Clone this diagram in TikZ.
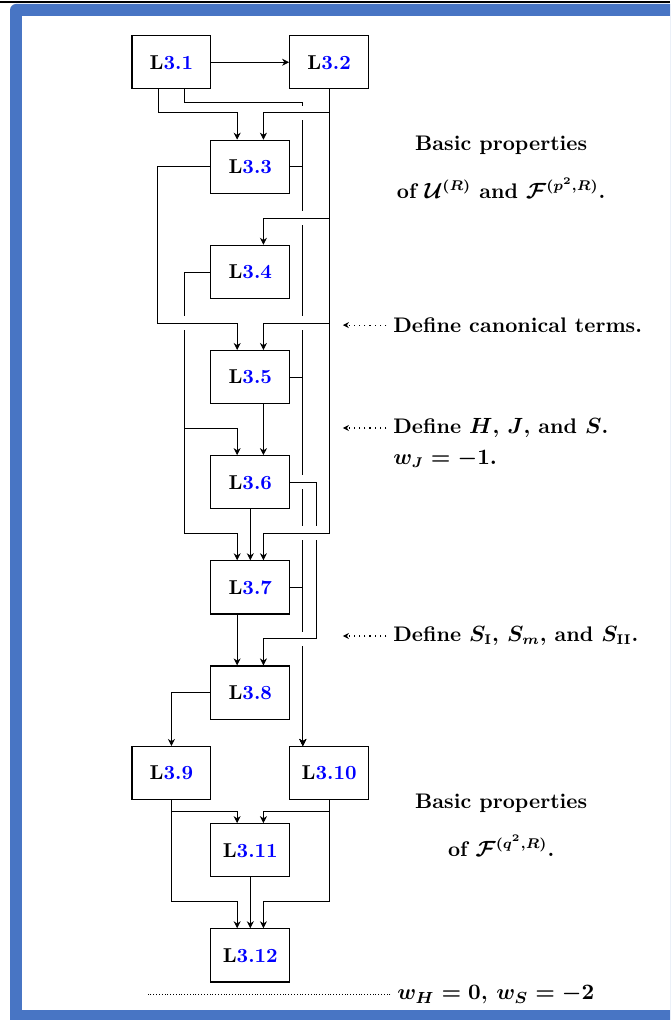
\documentclass[tikz,border=0pt]{standalone}
\usepackage{amsmath,amssymb}
\usepackage{tikz}
\usetikzlibrary{arrows.meta,calc,positioning}

\definecolor{frameblue}{RGB}{72,117,196}

% lemma label: black L, blue number
\newcommand{\lem}[1]{L\textcolor{blue}{#1}}
% gap in a vertical line where a horizontal one crosses it
\newcommand{\hop}[1]{%
  \fill[white] ($#1+(-1.2pt,-3.5pt)$) rectangle ($#1+(1.2pt,3.5pt)$);
  \draw ($#1+(-2pt,0)$) -- ($#1+(2pt,0)$);}

\begin{document}
\begin{tikzpicture}[>=Stealth, every node/.style={font=\bfseries\boldmath},
    lemma/.style={draw, line width=0.6pt, minimum width=1.38cm, minimum height=0.93cm, inner sep=0pt},
    link/.style={-{Stealth[length=3.5pt,width=3.5pt]}},
    note/.style={-{Stealth[length=3pt,width=3pt]}, dotted, line width=0.6pt},
    remark/.style={font=\fontsize{10.5}{12.6}\selectfont\bfseries\boldmath}]
    \useasboundingbox (0,0) rectangle (11.725,-17.85);

    % Frame
    \begin{scope}
      \clip (0,0) rectangle (11.725,-17.85);
      \fill[frameblue, rounded corners=3pt] (0.175,-0.07) rectangle (12.5,-18.5);
      \fill[white] (0.385,-0.28) rectangle (12.3,-17.67);
      \draw[line width=0.8pt] (0,-0.035) -- (11.725,-0.035);
    \end{scope}

    % Lemmas
    \node[lemma] (L31) at (3.0,-1.09) {\lem{3.1}};
    \node[lemma] (L32) at (5.76,-1.09) {\lem{3.2}};
    \node[lemma] (L33) at (4.38,-2.92) {\lem{3.3}};
    \node[lemma] (L34) at (4.38,-4.76) {\lem{3.4}};
    \node[lemma] (L35) at (4.38,-6.60) {\lem{3.5}};
    \node[lemma] (L36) at (4.38,-8.44) {\lem{3.6}};
    \node[lemma] (L37) at (4.38,-10.28) {\lem{3.7}};
    \node[lemma] (L38) at (4.38,-12.12) {\lem{3.8}};
    \node[lemma] (L39) at (3.0,-13.53) {\lem{3.9}};
    \node[lemma] (L310) at (5.76,-13.53) {\lem{3.10}};
    \node[lemma] (L311) at (4.38,-14.88) {\lem{3.11}};
    \node[lemma] (L312) at (4.38,-16.72) {\lem{3.12}};

    \coordinate (trunk) at ([xshift=-4.6mm]L310.north);

    % Long line down to L3.10
    \draw[link] ([xshift=2.3mm]L31.south) -- ++(0,-2.3mm) -| (trunk);
    \draw[link] (L33.east) -| (trunk);
    \draw[link] (L35.east) -| (trunk);
    \draw[link] (L37.east) -| (trunk);

    % Left side lines
    \draw[link] ([xshift=-2.3mm]L31.south) |- ([xshift=-2.3mm,yshift=4.7mm]L33.north) -- ([xshift=-2.3mm]L33.north);
    \draw[link] (L33.west) -- ++(-9.3mm,0) |- ([xshift=-2.3mm,yshift=4.7mm]L35.north) coordinate (b35) -- ([xshift=-2.3mm]L35.north);
    \draw[link] (L34.west) -- ++(-4.6mm,0) coordinate (r34) |- ([xshift=-2.3mm,yshift=4.7mm]L36.north) -- ([xshift=-2.3mm]L36.north);
    \draw[link] (L34.west) -- ++(-4.6mm,0) |- ([xshift=-2.3mm,yshift=4.7mm]L37.north) -- ([xshift=-2.3mm]L37.north);

    % Lines from L3.2
    \draw[link] (L31.east) -- (L32.west);
    \draw[link] (L32.south) |- ([xshift=2.3mm,yshift=4.7mm]L33.north) coordinate (b23) -- ([xshift=2.3mm]L33.north);
    \draw[link] (L32.south) |- ([xshift=2.3mm,yshift=4.7mm]L34.north) coordinate (b24) -- ([xshift=2.3mm]L34.north);
    \draw[link] (L32.south) |- ([xshift=2.3mm,yshift=4.7mm]L35.north) coordinate (b25) -- ([xshift=2.3mm]L35.north);
    \draw[link] (L32.south) |- ([xshift=2.3mm,yshift=4.7mm]L37.north) coordinate (b27) -- ([xshift=2.3mm]L37.north);

    % Middle column
    \draw[link] ([xshift=2.3mm]L35.south) -- ([xshift=2.3mm]L36.north);
    \draw[link] (L36.south) -- (L37.north);
    \draw[link] (L36.east) -- ++(4.6mm,0) coordinate (r36) |- ([xshift=2.3mm,yshift=4.7mm]L38.north) coordinate (b68) -- ([xshift=2.3mm]L38.north);
    \draw[link] ([xshift=-2.3mm]L37.south) -- ([xshift=-2.3mm]L38.north);
    \draw[link] (L38.west) -| (L39.north);

    % Bottom part
    \draw[link] (L39.south) |- ([xshift=-2.3mm,yshift=2.1mm]L311.north) -- ([xshift=-2.3mm]L311.north);
    \draw[link] (L310.south) |- ([xshift=2.3mm,yshift=2.1mm]L311.north) -- ([xshift=2.3mm]L311.north);
    \draw[link] (L39.south) |- ([xshift=-2.3mm,yshift=4.7mm]L312.north) -- ([xshift=-2.3mm]L312.north);
    \draw[link] (L310.south) |- ([xshift=2.3mm,yshift=4.7mm]L312.north) -- ([xshift=2.3mm]L312.north);
    \draw[link] (L311.south) -- (L312.north);

    % Crossings
    \hop{(trunk |- b23)}
    \hop{(trunk |- b24)}
    \hop{(trunk |- b25)}
    \hop{(r34 |- b35)}
    \hop{(trunk |- L36.east)}
    \hop{(trunk |- b27)}
    \hop{(r36 |- b27)}
    \hop{(trunk |- b68)}

    % Notes
    \node[remark, align=center] (basicA) at (8.77,-2.93) {Basic properties\\[11pt] of $\mathcal{U}^{(R)}$ and $\mathcal{F}^{(p^2,R)}$.};
    \node[remark, anchor=west] (canon) at (6.76,-5.69) {Define canonical terms.};
    \draw[note] (canon.west) -- ++(-0.76,0);
    \node[remark, anchor=west] (hjs) at (6.76,-7.49) {Define $H$, $J$, and $S$.};
    \node[remark, anchor=base west] (wJ) at ([yshift=-5.4mm]hjs.base west) {$w_J = -1.$};
    \draw[note] (hjs.west) -- ++(-0.76,0);
    \node[remark, anchor=west] (sdef) at (6.76,-11.13) {Define $S_{\mathbf{I}}$, $S_m$, and $S_{\mathbf{II}}$.};
    \draw[note] (sdef.west) -- ++(-0.76,0);
    \node[remark, align=center] (basicB) at (8.77,-14.44) {Basic properties\\[11pt] of $\mathcal{F}^{(q^2,R)}$.};
    \node[anchor=west, font=\fontsize{11.2}{13.4}\selectfont\bfseries\boldmath] (wHS) at (6.83,-17.41) {$w_H = 0$, $w_S = -2$};
    \draw[densely dotted] (wHS.west) -- ++(-4.25,0);
\end{tikzpicture}
\end{document}
